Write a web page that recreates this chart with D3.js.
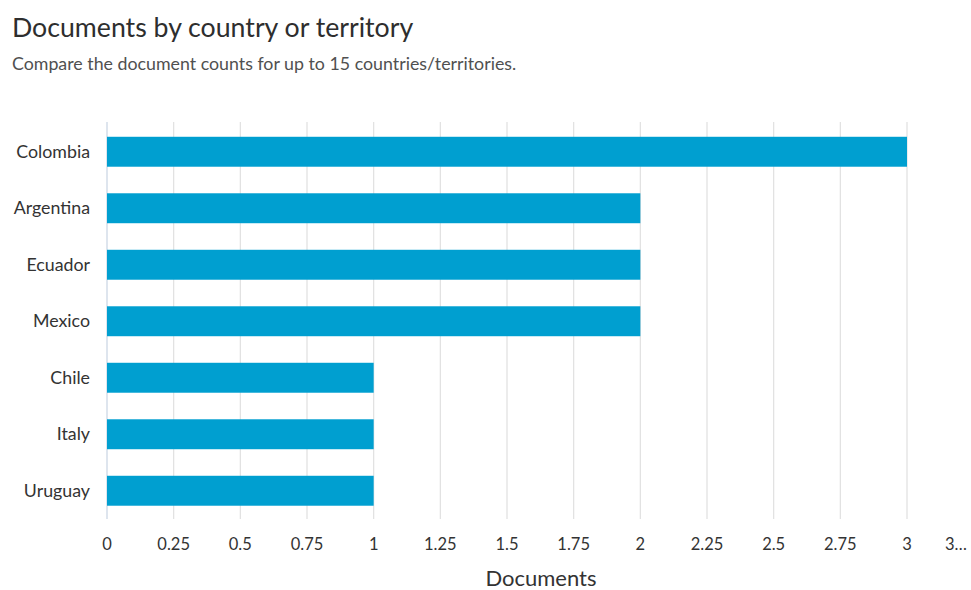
<!DOCTYPE html>
<html><head><meta charset="utf-8">
<script src="https://cdn.jsdelivr.net/npm/d3@7"></script>
<style>
body{margin:0;background:#fff;}
text{font-family:Lato,"Open Sans",sans-serif;}
</style></head>
<body><svg id="c" width="971" height="590"></svg>
<script>
const countries = ["Colombia","Argentina","Ecuador","Mexico","Chile","Italy","Uruguay"];
const documents = [3,2,2,2,1,1,1];
const tickValues = [0,0.25,0.5,0.75,1,1.25,1.5,1.75,2,2.25,2.5,2.75,3,3.25];
const tickLabels = ["0","0.25","0.5","0.75","1","1.25","1.5","1.75","2","2.25","2.5","2.75","3","3…"];

const W=971,H=590;
const svg=d3.select("#c");
const m={left:107,top:123.5,bottom:519};
const x=d3.scaleLinear().domain([0,3.25]).range([m.left, m.left+800*3.25/3]);
const y=d3.scaleBand().domain(countries).range([m.top,m.bottom]).paddingInner(0.47).paddingOuter(0.235);

svg.append("text").attr("x",12).attr("y",37).attr("font-size",26.7).attr("fill","#2e2e2e").text("Documents by country or territory");
svg.append("text").attr("x",12).attr("y",70).attr("font-size",17.8).attr("fill","#505050").text("Compare the document counts for up to 15 countries/territories.");

// gridlines
svg.append("g").selectAll("line").data(tickValues.filter(v=>x(v)<W)).join("line")
  .attr("x1",d=>x(d)).attr("x2",d=>x(d)).attr("y1",122).attr("y2",519)
  .attr("stroke",d=>d===0?"#c8d4e3":"#e0e0e0").attr("stroke-width",1.2);

svg.append("g").selectAll("rect").data(countries).join("rect")
  .attr("x",x(0)).attr("y",d=>y(d)).attr("height",y.bandwidth())
  .attr("width",(d,i)=>x(documents[i])-x(0)).attr("fill","#009fd0");

svg.append("g").selectAll("text").data(countries).join("text")
  .attr("x",90).attr("y",d=>y(d)+y.bandwidth()/2).attr("dy","0.35em")
  .attr("text-anchor","end").attr("font-size",17.8).attr("fill","#333").text(d=>d);

svg.append("g").selectAll("text").data(tickValues).join("text")
  .attr("x",(d,i)=>Math.min(x(d), W-15)).attr("y",550)
  .attr("text-anchor","middle").attr("font-size",16.5).attr("fill","#333")
  .text((d,i)=>tickLabels[i]);

svg.append("text").attr("x",541).attr("y",586).attr("text-anchor","middle")
  .attr("font-size",22).attr("fill","#333").text("Documents");
</script></body></html>
